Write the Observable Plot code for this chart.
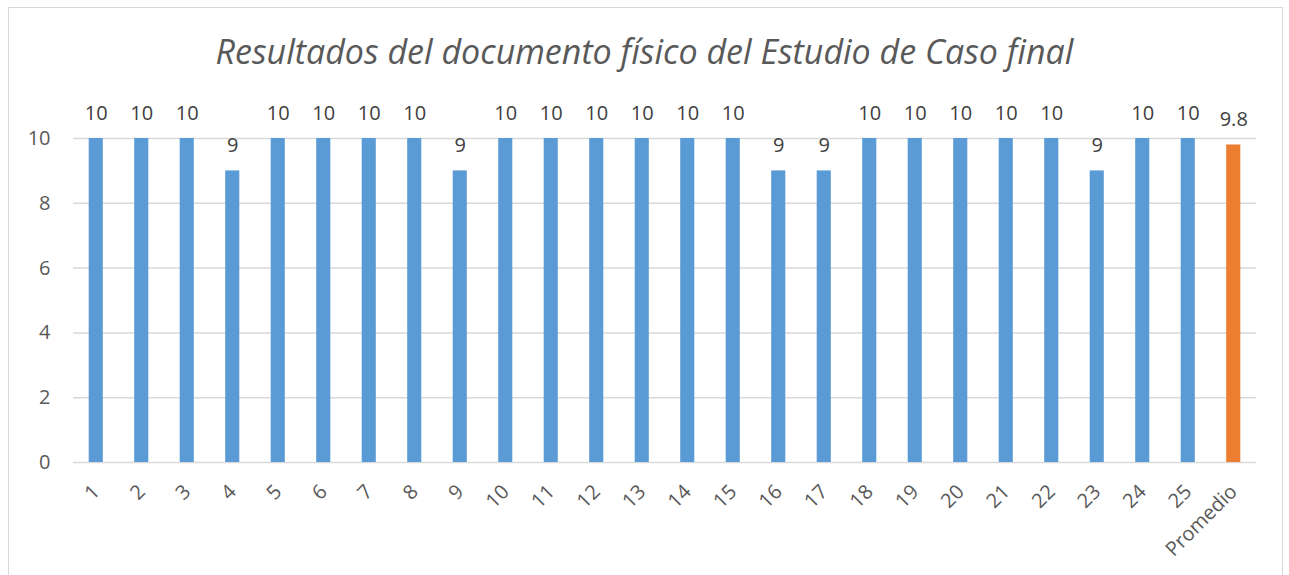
<!DOCTYPE html>
<html><head><meta charset="utf-8">
<script src="https://cdn.jsdelivr.net/npm/d3@7"></script>
<script src="https://cdn.jsdelivr.net/npm/@observablehq/plot@0.6"></script>
<style>
body{margin:0;background:#fff;font-family:"Open Sans",sans-serif;}
#wrap{position:relative;width:1289px;height:575px;overflow:hidden;}
#frame{position:absolute;left:8px;top:7px;width:1275px;height:600px;border:1px solid #D9D9D9;box-sizing:border-box;}
#title{position:absolute;left:0;top:31px;width:1289px;text-align:center;font-style:italic;font-size:34px;line-height:1.2;color:#595959;}
#chart{position:absolute;left:0;top:95px;}
#chart svg text{font-size:20px;}
</style></head>
<body><div id="wrap"><div id="frame"></div><div id="title">Resultados del documento físico del Estudio de Caso final</div><div id="chart"></div></div>
<script>
const categories = ["1","2","3","4","5","6","7","8","9","10","11","12","13","14","15","16","17","18","19","20","21","22","23","24","25","Promedio"];
const values = [10,10,10,9,10,10,10,10,9,10,10,10,10,10,10,9,9,10,10,10,10,10,9,10,10,9.8];
const yTicks = [0,2,4,6,8,10];
const data = categories.map((c,i)=>({cat:c, value:values[i], avg:c==="Promedio"}));
const chart = Plot.plot({
  width:1289, height:480,
  marginLeft:73, marginRight:33, marginTop:43, marginBottom:113,
  style:{fontFamily:"Open Sans, sans-serif", fontSize:"20px", color:"#595959", background:"transparent"},
  x:{domain:categories, paddingInner:0.69, paddingOuter:0.345, round:false, label:null, tickSize:0, tickRotate:-45, tickPadding:26},
  y:{domain:[0,10], ticks:yTicks, label:null, tickSize:0, tickPadding:23},
  marks:[
    Plot.ruleY(yTicks,{stroke:"#D9D9D9", strokeWidth:1.5, strokeOpacity:1}),
    Plot.barY(data,{x:"cat", y:"value", fill:d=>d.avg?"#ED7D31":"#5B9BD5"}),
    Plot.text(data,{x:"cat", y:"value", text:d=>String(d.value), dy:-25, fill:"#404040", fontSize:20})
  ]
});
document.getElementById("chart").appendChild(chart);
</script></body></html>
